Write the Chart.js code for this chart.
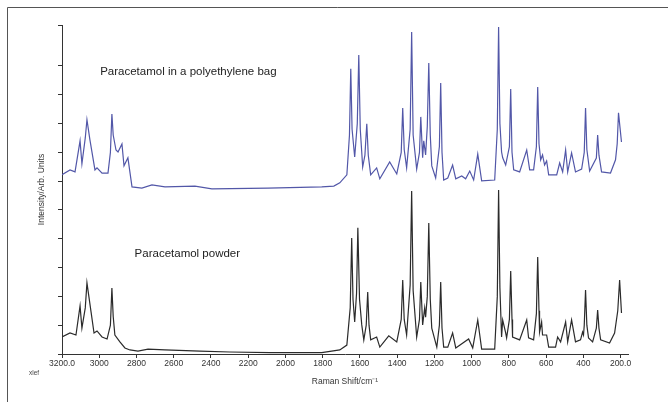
<!DOCTYPE html>
<html>
<head>
<meta charset="utf-8">
<title>Raman spectra</title>
<script src="https://cdn.jsdelivr.net/npm/chart.js@4.4.1/dist/chart.umd.min.js"></script>
<style>
  html, body { margin: 0; padding: 0; background: #fff; }
  #wrap { width: 668px; height: 402px; position: relative; }
</style>
</head>
<body>
<div id="wrap"><canvas id="spectra" width="668" height="402"></canvas></div>
<script>
// Raman shift (cm-1) and intensity (arb.) for the sample in the polyethylene bag
var bagShift = [
    3200, 3157, 3130, 3103, 3093, 3075, 3066, 3050, 3023, 3012,
    2985, 2953, 2940, 2932, 2925, 2910, 2899, 2878, 2867, 2846,
    2824, 2771, 2717, 2647, 2486, 2395, 2094, 1805, 1740, 1708,
    1670, 1656, 1649, 1642, 1628, 1614, 1606, 1598, 1585, 1573,
    1563, 1555, 1542, 1510, 1493, 1440, 1402, 1378, 1370, 1362,
    1349, 1330, 1322, 1314, 1295, 1280, 1273, 1263, 1257, 1247,
    1238, 1230, 1222, 1214, 1193, 1173, 1166, 1159, 1150, 1128,
    1102, 1085, 1053, 1032, 1010, 989, 967, 946, 876, 862,
    855, 848, 839, 833, 817, 797, 790, 783, 774, 742,
    704, 688, 667, 652, 645, 638, 629, 619, 608, 597,
    586, 543, 527, 511, 495, 484, 463, 442, 409, 395,
    388, 381, 366, 330, 323, 316, 302, 254, 227, 218,
    211, 195];
var bagIntensity = [
    6.22, 6.39, 6.32, 7.40, 6.60, 7.50, 8.13, 7.43, 6.39, 6.46,
    6.28, 6.28, 7.00, 8.33, 7.60, 7.08, 7.01, 7.29, 6.53, 6.81,
    5.80, 5.76, 5.87, 5.80, 5.83, 5.73, 5.76, 5.80, 5.83, 5.94,
    6.22, 7.60, 9.90, 7.80, 6.84, 8.00, 10.38, 7.80, 6.49, 6.90,
    7.99, 6.90, 6.22, 6.46, 6.08, 6.67, 6.25, 7.00, 8.54, 7.10,
    6.46, 7.80, 11.18, 7.60, 6.42, 7.00, 8.23, 6.81, 7.40, 6.91,
    7.90, 10.10, 7.60, 6.53, 6.11, 7.20, 9.41, 7.00, 6.04, 6.11,
    6.56, 6.08, 6.18, 6.08, 6.35, 6.04, 6.94, 6.01, 6.04, 7.80,
    11.35, 8.00, 7.01, 6.81, 6.56, 7.20, 9.20, 7.00, 6.39, 6.32,
    7.08, 6.39, 6.39, 7.20, 9.27, 7.30, 6.74, 6.91, 6.56, 6.70,
    6.22, 6.22, 6.63, 6.32, 7.08, 6.32, 6.98, 6.32, 6.42, 7.00,
    8.54, 7.10, 6.35, 6.80, 7.60, 6.90, 6.32, 6.28, 6.74, 7.30,
    8.37, 7.36];

// Raman shift (cm-1) and intensity (arb.) for the bare powder
var powderShift = [
    3200, 3157, 3125, 3103, 3093, 3075, 3066, 3044, 3028, 3012,
    2985, 2958, 2940, 2932, 2925, 2916, 2889, 2862, 2835, 2792,
    2738, 2647, 2459, 2298, 2084, 1805, 1708, 1670, 1652, 1644,
    1637, 1628, 1618, 1611, 1602, 1590, 1579, 1566, 1558, 1551,
    1542, 1510, 1493, 1445, 1402, 1378, 1370, 1362, 1349, 1330,
    1322, 1314, 1295, 1280, 1273, 1263, 1252, 1247, 1238, 1230,
    1222, 1214, 1187, 1173, 1166, 1159, 1150, 1128, 1102, 1085,
    1016, 994, 967, 946, 876, 862, 855, 848, 839, 833,
    817, 812, 797, 790, 783, 780, 742, 704, 694, 667,
    652, 645, 638, 635, 624, 619, 597, 586, 549, 538,
    522, 495, 484, 463, 442, 415, 404, 399, 395, 388,
    381, 372, 350, 330, 323, 316, 307, 259, 232, 215,
    205, 195];
var powderIntensity = [
    0.59, 0.73, 0.66, 1.67, 0.90, 1.60, 2.47, 1.46, 0.73, 0.80,
    0.59, 0.52, 1.00, 2.29, 1.30, 0.66, 0.42, 0.21, 0.14, 0.10,
    0.17, 0.14, 0.10, 0.07, 0.05, 0.05, 0.14, 0.31, 1.60, 4.03,
    1.90, 1.11, 2.10, 4.38, 1.90, 1.01, 0.49, 1.00, 2.15, 1.00,
    0.49, 0.59, 0.24, 0.63, 0.42, 1.20, 2.57, 1.20, 0.66, 2.40,
    5.66, 2.20, 0.59, 1.20, 2.50, 1.01, 1.60, 1.28, 2.00, 4.55,
    1.90, 0.90, 0.24, 1.00, 2.50, 0.90, 0.24, 0.24, 0.73, 0.21,
    0.52, 0.21, 1.18, 0.17, 0.17, 2.00, 5.69, 2.30, 0.59, 1.18,
    0.73, 0.56, 1.20, 2.88, 1.20, 0.59, 0.49, 1.18, 0.56, 0.49,
    1.40, 3.37, 1.50, 0.76, 1.11, 0.66, 0.66, 0.24, 0.24, 0.59,
    0.42, 1.11, 0.42, 1.18, 0.42, 0.49, 0.76, 0.66, 1.00, 2.22,
    1.00, 0.56, 0.42, 0.90, 1.53, 0.90, 0.49, 0.38, 0.73, 1.50,
    2.57, 1.42];

var shiftTicks = [3200, 3000, 2800, 2600, 2400, 2200, 2000, 1800, 1600, 1400, 1200, 1000, 800, 600, 400, 200];
var intensityTicks = [0, 1, 2, 3, 4, 5, 6, 7, 8, 9, 10, 11.42];

// captions placed in data coordinates: [text, shift, intensity]
var captions = [
    ['Paracetamol in a polyethylene bag', 2995, 9.79],
    ['Paracetamol powder', 2810, 3.47]
];

function toPoints(xs, ys) {
    return xs.map(function (x, i) { return { x: x, y: ys[i] }; });
}

var FONT = '"Liberation Sans", Arial, Helvetica, sans-serif';

var decorations = {
    id: 'decorations',
    afterDraw: function (chart) {
        var ctx = chart.ctx;
        var xs = chart.scales.x, ys = chart.scales.y;
        ctx.save();
        // page frame (top and left edges)
        ctx.strokeStyle = '#555';
        ctx.lineWidth = 1;
        ctx.beginPath();
        ctx.moveTo(7.5, 402);
        ctx.lineTo(7.5, 7.5);
        ctx.lineTo(668, 7.5);
        ctx.stroke();

        ctx.fillStyle = '#222';
        ctx.font = '11.5px ' + FONT;
        ctx.textBaseline = 'middle';
        ctx.textAlign = 'left';
        captions.forEach(function (c) {
            ctx.fillText(c[0], xs.getPixelForValue(c[1]), ys.getPixelForValue(c[2]));
        });

        ctx.fillStyle = '#444';
        ctx.font = '6.5px ' + FONT;
        ctx.fillText('xlef', chart.chartArea.left - 33, chart.chartArea.bottom + 19);
        ctx.restore();
    }
};

var ctx = document.getElementById('spectra').getContext('2d');
var chart = new Chart(ctx, {
    type: 'line',
    data: {
        datasets: [{
            label: 'Paracetamol in a polyethylene bag',
            data: toPoints(bagShift, bagIntensity),
            borderColor: '#5257a8',
            borderWidth: 1.2,
            pointRadius: 0,
            tension: 0,
            fill: false
        }, {
            label: 'Paracetamol powder',
            data: toPoints(powderShift, powderIntensity),
            borderColor: '#2b2b2b',
            borderWidth: 1.2,
            pointRadius: 0,
            tension: 0,
            fill: false
        }]
    },
    options: {
        responsive: false,
        animation: false,
        layout: { padding: { left: 0, right: 40, top: 25, bottom: 0 } },
        plugins: {
            legend: { display: false },
            tooltip: { enabled: false }
        },
        scales: {
            x: {
                type: 'linear',
                reverse: true,
                min: 160,
                max: 3200,
                afterBuildTicks: function (scale) {
                    scale.ticks = shiftTicks.map(function (v) { return { value: v }; });
                },
                afterFit: function (scale) { scale.height = 48; },
                grid: { drawOnChartArea: false, drawTicks: true, tickLength: 4, tickColor: '#333' },
                border: { display: true, color: '#333', width: 1 },
                ticks: {
                    padding: 1,
                    color: '#333',
                    font: { family: FONT, size: 8.5 },
                    maxRotation: 0,
                    autoSkip: false,
                    callback: function (v) {
                        return (v === 3200 || v === 200) ? v.toFixed(1) : String(v);
                    }
                },
                title: {
                    display: true,
                    text: 'Raman Shift/cm\u207B\u00B9',
                    color: '#333',
                    font: { family: FONT, size: 8.5 },
                    padding: { top: 0, bottom: 15 }
                }
            },
            y: {
                type: 'linear',
                min: 0,
                max: 11.42,
                afterBuildTicks: function (scale) {
                    scale.ticks = intensityTicks.map(function (v) { return { value: v }; });
                },
                afterFit: function (scale) { scale.width = 62; },
                grid: { drawOnChartArea: false, drawTicks: true, tickLength: 4, tickColor: '#333' },
                border: { display: true, color: '#333', width: 1 },
                ticks: { display: false },
                title: {
                    display: true,
                    text: 'Intensity/Arb. Units',
                    color: '#333',
                    font: { family: FONT, size: 8.5 },
                    padding: { top: 37, bottom: 0 }
                }
            }
        }
    },
    plugins: [decorations]
});
</script>
</body>
</html>
